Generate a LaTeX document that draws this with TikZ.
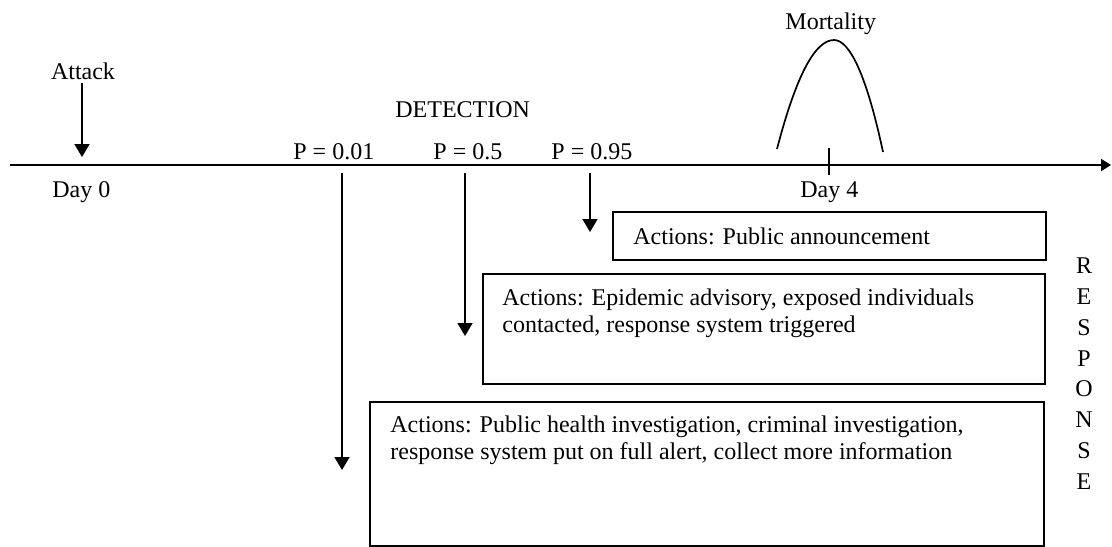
\documentclass[tikz,border=0pt]{standalone}
\usepackage{fontspec}
\setmainfont{Liberation Serif}
\usetikzlibrary{arrows.meta}
\begin{document}
\begin{tikzpicture}[x=0.5pt,y=-0.5pt,
  lbl/.style={inner sep=0pt, font=\fontsize{12}{13.75}\selectfont},
  arr/.style={line width=0.85pt, -{Triangle[width=7.5pt,length=6.5pt]}},
  axis/.style={line width=1pt, -{Triangle[width=6pt,length=5pt]}},
  box/.style={draw, line width=1pt, rectangle, inner sep=0pt, anchor=north west},
  boxtxt/.style={lbl, align=left, anchor=base west}]
\useasboundingbox (0,0) rectangle (1112,546);
% timeline
\coordinate (tl0) at (10,165);
\coordinate (tl1) at (1111,165);
\draw[axis] (tl0) -- (tl1);
% labels on the timeline
\node[lbl, anchor=base] (attack) at (83,79) {Attack};
\coordinate (atkend) at (82,157);
\draw[arr] ([yshift=-1.5pt]atkend |- attack.south) -- (atkend);
\node[lbl, anchor=base west] (day0) at (52,197) {Day 0};
\node[lbl, anchor=base west] (det) at (395,117) {DETECTION};
\node[lbl, anchor=base west] (p1) at (293,159) {P = 0.01};
\node[lbl, anchor=base west] (p2) at (433,159) {P = 0.5};
\node[lbl, anchor=base west] (p3) at (551,159) {P = 0.95};
\node[lbl, anchor=base west] (mort) at (785,29) {Mortality};
\node[lbl, anchor=base west] (day4) at (800,197) {Day 4};
% mortality curve and day 4 tick
\draw[line width=0.85pt] (777,149) .. controls (796,76) and (815,40) .. (834,40)
  .. controls (850,40) and (867,77) .. (883,152);
\coordinate (d4a) at (829,148);
\coordinate (d4b) at (829,175);
\draw[line width=0.85pt] (d4a) -- (d4b);
% detection arrows
\coordinate (a1s) at (342,173); \coordinate (a1e) at (342,470);
\coordinate (a2s) at (465,173); \coordinate (a2e) at (465,336);
\coordinate (a3s) at (590,173); \coordinate (a3e) at (590,232);
\draw[arr] (a1s) -- (a1e);
\draw[arr] (a2s) -- (a2e);
\draw[arr] (a3s) -- (a3e);
% action boxes
\node[box, minimum width=216.5pt, minimum height=24pt] (b1) at (612,211) {};
\node[box, minimum width=281pt, minimum height=55pt] (b2) at (482,273) {};
\node[box, minimum width=337pt, minimum height=72pt] (b3) at (369,401) {};
\node[boxtxt] (t1) at (633,244) {Actions: Public announcement};
\node[boxtxt] (t2) at (502,332.5) {Actions: Epidemic advisory, exposed individuals\\contacted, response system triggered};
\node[boxtxt] (t3) at (390,459.5) {Actions: Public health investigation, criminal investigation,\\response system put on full alert, collect more information};
% response
\node[lbl, align=center, anchor=base, font=\fontsize{12}{15.36}\selectfont] (resp) at (1084,489) {R\\E\\S\\P\\O\\N\\S\\E};
\end{tikzpicture}
\end{document}
